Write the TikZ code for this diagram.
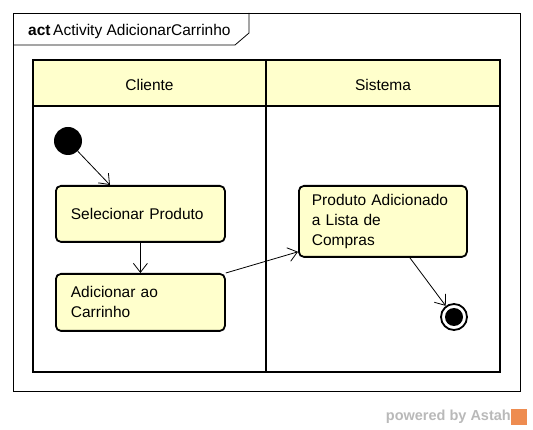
\documentclass[tikz,border=0pt]{standalone}
\usepackage{fontspec}
\setmainfont{Liberation Sans}
\usetikzlibrary{arrows.meta,calc}
\definecolor{actfill}{RGB}{255,255,204}
\definecolor{wmgray}{RGB}{185,185,185}
\definecolor{astahor}{RGB}{238,140,80}
\tikzset{
  actbox/.style={draw, line width=1.8pt, rounded corners=5pt, fill=actfill, anchor=north west,
    align=left, font=\fontsize{15.5}{20}\selectfont},
  flow/.style={draw, line width=0.8pt, -{Straight Barb[length=9pt,width=14pt,line width=0.8pt]}},
  lane/.style={draw, line width=1.8pt},
  frame/.style={draw, line width=0.8pt},
  lbl/.style={font=\fontsize{15.5}{18}\selectfont},
}
\begin{document}
\begin{tikzpicture}[x=1pt,y=-1pt]
\useasboundingbox (0,0) rectangle (533,430);
% outer frame
\draw[frame] (13,13) rectangle (520,391);
\draw[frame] (13,45) -- (235,45) -- (249,33) -- (249,13);
\node[lbl, anchor=west, inner sep=0] (title) at (28,31) {\textbf{act}\,Activity AdicionarCarrinho};
% swimlanes
\fill[actfill] (33,60) rectangle (500,106);
\draw[lane] (33,60) rectangle (500,372);
\draw[lane] (33,106) -- (500,106);
\draw[lane] (266,60) -- (266,372);
\node[lbl] (cli) at (149.5,85) {Cliente};
\node[lbl] (sis) at (383,85) {Sistema};
% nodes
\node[circle, fill=black, minimum size=28pt, inner sep=0] (init) at (68,141) {};
\node[actbox, minimum width=169pt, minimum height=56pt, inner xsep=15pt, text width=139pt] (sel) at (55,185) {Selecionar Produto};
\node[actbox, minimum width=169pt, minimum height=57pt, inner xsep=15pt, text width=139pt] (add) at (55,273) {Adicionar ao\\Carrinho};
\node[actbox, minimum width=168pt, minimum height=71pt, inner xsep=13pt, text width=142pt] (prod) at (298,185) {Produto Adicionado\\a Lista de\\Compras};
\node[circle, draw, line width=1.8pt, fill=white, minimum size=26pt, inner sep=0] (fin) at (454,317) {};
\fill (fin.center) circle (9pt);
% flows
\draw[flow] (init) -- ($(sel.north west)+(55,0)$);
\draw[flow] (sel) -- (add);
\draw[flow] (add.north east) -- ($(prod.south west)+(0,-6)$);
\draw[flow] ($(prod.south)+(27,0)$) -- (fin);
% watermark
\node[anchor=east, inner sep=0, text=wmgray, font=\fontsize{14.5}{16}\selectfont\bfseries] (wm) at (511,417) {powered by Astah};
\fill[astahor] (511,409) rectangle (527,425);
\end{tikzpicture}
\end{document}
